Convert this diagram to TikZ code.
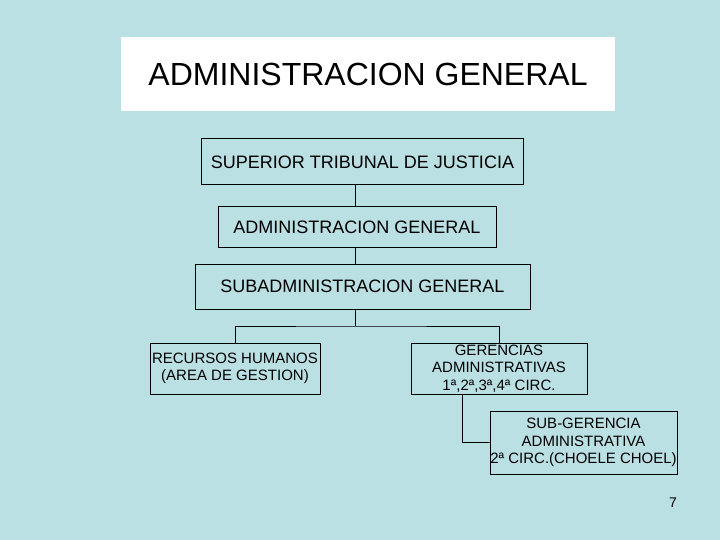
\documentclass[tikz,border=0pt]{standalone}
\usepackage{fontspec}
\setmainfont{Liberation Sans}
\usepackage{xcolor}
\definecolor{fondo}{RGB}{187,224,227}

\begin{document}
\begin{tikzpicture}[x=1pt,y=-1pt,
	caja/.style={draw, line width=1pt, inner sep=0pt, align=center},
	grande/.style={font=\fontsize{18}{21}\selectfont},
	chico/.style={font=\fontsize{15}{17.5}\selectfont}]
		
		%fondo
		\fill[fondo] (0,0) rectangle (720,540);
		\useasboundingbox (0,0) rectangle (720,540);
		
		%nomi
		\node[fill=white, minimum width=494pt, minimum height=74pt, font=\fontsize{32}{36}\selectfont] (titulo) at (368,74) {ADMINISTRACION GENERAL};
		\node[caja, grande, minimum width=322pt, minimum height=46pt] (sup) at (362.5,162) {SUPERIOR TRIBUNAL DE JUSTICIA};
		\node[caja, grande, minimum width=278pt, minimum height=40pt] (adm) at (357,227) {ADMINISTRACION GENERAL};
		\node[caja, grande, minimum width=335pt, minimum height=45pt] (sub) at (362.5,286.5) {SUBADMINISTRACION GENERAL};
		\node[caja, chico, minimum width=170pt, minimum height=51pt] (rh) at (235,368.5) {RECURSOS HUMANOS\\(AREA DE GESTION)};
		\node[caja, chico, minimum width=176pt, minimum height=51pt] (ger) at (499,368.5) {GERENCIAS\\ADMINISTRATIVAS\\1ª,2ª,3ª,4ª CIRC.};
		\node[caja, chico, minimum width=187pt, minimum height=63pt] (sg) at (583.5,442.5) {SUB-GERENCIA\\ADMINISTRATIVA\\2ª CIRC.(CHOELE CHOEL)};
		\node[font=\fontsize{14}{16}\selectfont] (pag) at (673,503) {7};
		
		%linee
		\coordinate (eje) at (355,0);
		\coordinate (bus) at (355,326);
		\coordinate (rama) at (462,0);
		\draw[line width=1pt] (sup.south -| eje) -- (adm.north -| eje);
		\draw[line width=1pt] (adm.south -| eje) -- (sub.north -| eje);
		\draw[line width=1pt] (sub.south -| eje) -- (bus);
		\draw[line width=1pt] (rh.north) |- (bus) -| (ger.north);
		\draw[line width=1pt] (ger.south -| rama) |- (sg.west);
		
	\end{tikzpicture}
\end{document}
